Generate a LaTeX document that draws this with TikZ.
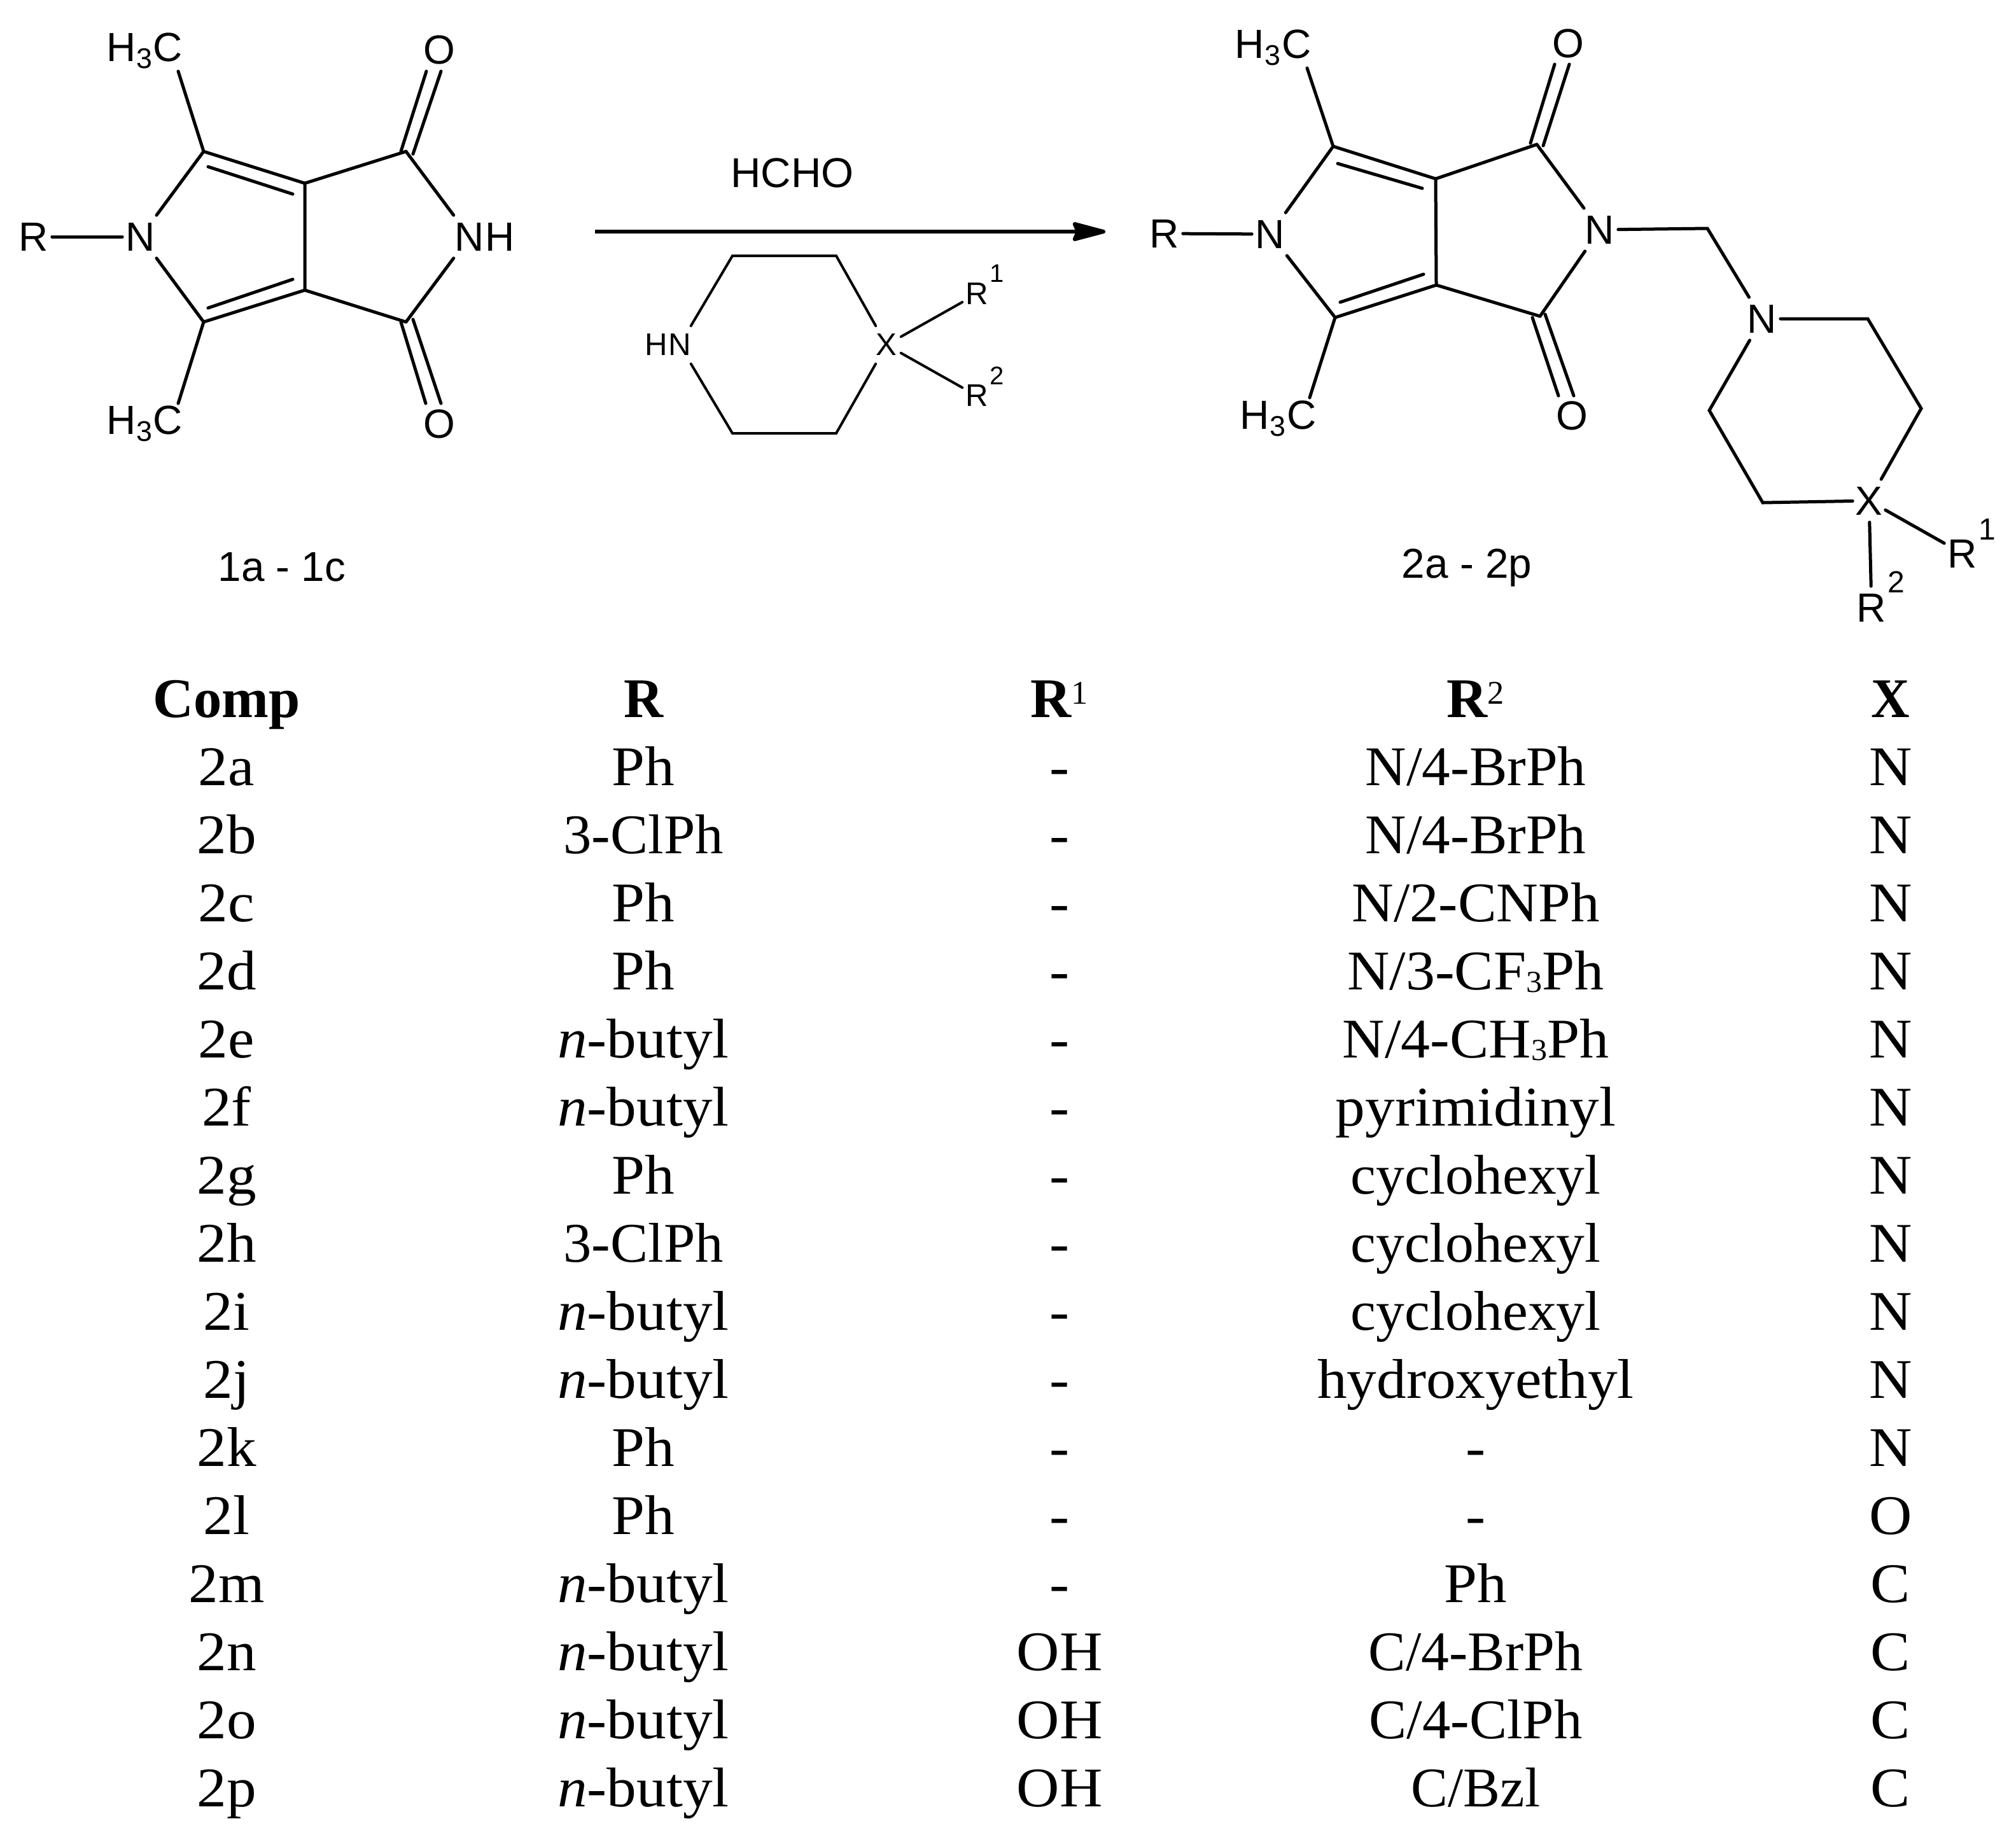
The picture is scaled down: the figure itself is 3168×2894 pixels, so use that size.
\documentclass[tikz,border=0pt]{standalone}
\usepackage{fontspec}
\usetikzlibrary{arrows.meta}
\setmainfont{Liberation Serif}[FakeStretch=1.06]
\newfontfamily\chemfont{Liberation Sans}
\newcommand{\trow}[6]{%
  \node[cell] (a#1) at (356,{1127+107*#1}) {#2};
  \node[cell] (b#1) at (1011,{1127+107*#1}) {#3};
  \node[cell] (c#1) at (1665,{1127+107*#1}) {#4};
  \node[cell] (d#1) at (2319,{1127+107*#1}) {#5};
  \node[cell] (e#1) at (2971,{1127+107*#1}) {#6};
}
\newcommand{\hcc}{H\textsubscript{3}C}
\newcommand{\nb}{\textit{n}-butyl}
\newcommand{\nar}[2]{\scalebox{#1}[1]{#2}}
\newcommand{\tsub}[1]{\raisebox{-1pt}{\fontsize{12}{12}\selectfont #1}}
\newcommand{\tsup}[1]{\raisebox{5.25pt}{\fontsize{13}{13}\selectfont\mdseries #1}}
\tikzset{
  cell/.style={anchor=base,inner sep=0pt,font=\fontsize{22}{26}\selectfont},
  hcell/.style={cell,font=\fontsize{22}{26}\selectfont\bfseries},
  atom/.style={inner sep=0pt,minimum width=14pt,minimum height=16.5pt,font=\chemfont\fontsize{16}{18}\selectfont},
  small atom/.style={inner sep=0pt,minimum width=8.5pt,minimum height=14.5pt,font=\chemfont\fontsize{12.3}{14}\selectfont},
  supnum/.style={inner sep=0pt,font=\chemfont\fontsize{10}{12}\selectfont},
  caption/.style={inner sep=0pt,font=\chemfont\fontsize{16.4}{18}\selectfont},
  bond/.style={line width=1.25pt,line cap=round,line join=miter},
  thin bond/.style={line width=1pt,line cap=round,line join=miter},
  react/.style={line width=1.5pt,-{Stealth[length=15.5pt,width=8pt,inset=1.7pt,round]}},
}
\begin{document}
\begin{tikzpicture}[x=0.25pt,y=-0.25pt]
\path[use as bounding box,fill=white] (0,0) rectangle (3168,2894);

% ---------- left molecule
\coordinate (lc1) at (320,238);
\coordinate (lc2) at (479,288);
\coordinate (lc3) at (479,456);
\coordinate (lc4) at (320,506);
\coordinate (lc5) at (638,238);
\coordinate (lc6) at (638,506);
\node[atom] (ln1) at (221,372) {N};
\node[atom] (ln2) at (738,372) {N};
\node[atom,anchor=west,minimum width=0pt] (lh) at (762,372) {H};
\node[atom] (lr) at (53,372) {R};
\node[atom,anchor=east,minimum width=0pt] (lme1) at (288,80) {\hcc};
\node[atom,anchor=east,minimum width=0pt] (lme2) at (288,666) {\hcc};
\node[atom] (lo1) at (690,78) {O};
\node[atom] (lo2) at (690,666) {O};
\node[caption] (lcap) at (443,891) {1a - 1c};
\coordinate (lm1) at (280,112);
\coordinate (lm2) at (280,634);
\coordinate (ld1a) at (327,262); \coordinate (ld1b) at (460,305);
\coordinate (ld2a) at (327,484); \coordinate (ld2b) at (460,439);
\coordinate (lo1a) at (630,238); \coordinate (lo1b) at (670,112);
\coordinate (lo1c) at (649,242); \coordinate (lo1d) at (693,112);
\coordinate (lo2a) at (630,506); \coordinate (lo2b) at (669,634);
\coordinate (lo2c) at (649,502); \coordinate (lo2d) at (693,634);
\draw[bond] (lr) -- (ln1);
\draw[bond] (ln1) -- (lc1);
\draw[bond] (ln1) -- (lc4);
\draw[bond] (lc1) -- (lc2) -- (lc3) -- (lc4);
\draw[bond] (lc2) -- (lc5);
\draw[bond] (lc3) -- (lc6);
\draw[bond] (lc5) -- (ln2);
\draw[bond] (lc6) -- (ln2);
\draw[bond] (lc1) -- (lm1);
\draw[bond] (lc4) -- (lm2);
\draw[bond] (ld1a) -- (ld1b);
\draw[bond] (ld2a) -- (ld2b);
\draw[bond] (lo1a) -- (lo1b);
\draw[bond] (lo1c) -- (lo1d);
\draw[bond] (lo2a) -- (lo2b);
\draw[bond] (lo2c) -- (lo2d);

% ---------- arrow and reagent
\coordinate (arra) at (935,364);
\coordinate (arrb) at (1737,364);
\draw[react] (arra) -- (arrb);
\node[caption] (hcho) at (1245,272) {HCHO};
\coordinate (rg1) at (1151,402);
\coordinate (rg2) at (1314,402);
\coordinate (rg3) at (1314,681);
\coordinate (rg4) at (1151,681);
\node[small atom] (rgn) at (1068,542) {N};
\node[small atom,anchor=east,minimum width=0pt] (rgh) at (1050,542) {H};
\node[small atom,minimum width=11pt] (rgx) at (1393,542) {X};
\node[small atom,minimum width=11pt] (rgr1) at (1535,462) {R};
\node[small atom,minimum width=11pt] (rgr2) at (1535,622) {R};
\node[supnum] (rgs1) at (1567,430) {1};
\node[supnum] (rgs2) at (1567,591) {2};
\draw[thin bond] (rgn) -- (rg1) -- (rg2) -- (rgx);
\draw[thin bond] (rgn) -- (rg4) -- (rg3) -- (rgx);
\draw[thin bond] (rgx) -- (rgr1);
\draw[thin bond] (rgx) -- (rgr2);

% ---------- right molecule
\coordinate (pc1) at (2095,230);
\coordinate (pc2) at (2256,281);
\coordinate (pc3) at (2257,448);
\coordinate (pc4) at (2098,499);
\coordinate (pc5) at (2415,227);
\coordinate (pc6) at (2420,497);
\coordinate (pch) at (2683,359);
\coordinate (pr1) at (2935,501);
\coordinate (pr2) at (3019,642);
\coordinate (pr3) at (2770,790);
\coordinate (pr4) at (2686,645);
\node[atom] (pn1) at (1996,368) {N};
\node[atom] (pn2) at (2514,361) {N};
\node[atom] (pn3) at (2769,501) {N};
\node[atom,minimum width=12.5pt] (px) at (2937,787) {X};
\node[atom] (pr) at (1830,367) {R};
\node[atom] (pra) at (3084,870) {R};
\node[atom] (prb) at (2941,955) {R};
\node[supnum,font=\chemfont\fontsize{12}{14}\selectfont] (psa) at (3123,832) {1};
\node[supnum,font=\chemfont\fontsize{12}{14}\selectfont] (psb) at (2980,915) {2};
\node[atom,anchor=east,minimum width=0pt] (pme1) at (2061,75) {\hcc};
\node[atom,anchor=east,minimum width=0pt] (pme2) at (2069,658) {\hcc};
\node[atom] (po1) at (2464,68) {O};
\node[atom] (po2) at (2470,653) {O};
\node[caption] (pcap) at (2305,892) {2a - 2p};
\coordinate (pm1) at (2054,107);
\coordinate (pm2) at (2058,625);
\coordinate (pd1a) at (2102,257); \coordinate (pd1b) at (2235,296);
\coordinate (pd2a) at (2106,475); \coordinate (pd2b) at (2237,431);
\coordinate (po1a) at (2405,225); \coordinate (po1b) at (2443,101);
\coordinate (po1c) at (2425,229); \coordinate (po1d) at (2466,101);
\coordinate (po2a) at (2408,499); \coordinate (po2b) at (2449,622);
\coordinate (po2c) at (2428,494); \coordinate (po2d) at (2473,622);
\draw[bond] (pr) -- (pn1);
\draw[bond] (pn1) -- (pc1);
\draw[bond] (pn1) -- (pc4);
\draw[bond] (pc1) -- (pc2) -- (pc3) -- (pc4);
\draw[bond] (pc2) -- (pc5);
\draw[bond] (pc3) -- (pc6);
\draw[bond] (pc5) -- (pn2);
\draw[bond] (pc6) -- (pn2);
\draw[bond] (pc1) -- (pm1);
\draw[bond] (pc4) -- (pm2);
\draw[bond] (pd1a) -- (pd1b);
\draw[bond] (pd2a) -- (pd2b);
\draw[bond] (po1a) -- (po1b);
\draw[bond] (po1c) -- (po1d);
\draw[bond] (po2a) -- (po2b);
\draw[bond] (po2c) -- (po2d);
\draw[bond] (pn2) -- (pch) -- (pn3);
\draw[bond] (pn3) -- (pr1) -- (pr2) -- (px);
\draw[bond] (pn3) -- (pr4) -- (pr3) -- (px);
\draw[bond] (px) -- (pra);
\draw[bond] (px) -- (prb);

% ---------- table
\node[hcell] (a0) at (356,1127) {\nar{.95}{Comp}};
\node[hcell] (b0) at (1011,1127) {\nar{.92}{R}};
\node[hcell] (c0) at (1665,1127) {\nar{.95}{R\tsup{1}}};
\node[hcell] (d0) at (2319,1127) {\nar{.95}{R\tsup{2}}};
\node[hcell] (e0) at (2971,1127) {\nar{.9}{X}};
\trow{1}{2a}{Ph}{-}{\nar{.955}{N/4-BrPh}}{N}
\trow{2}{2b}{\nar{.95}{3-ClPh}}{-}{\nar{.955}{N/4-BrPh}}{N}
\trow{3}{2c}{Ph}{-}{\nar{.975}{N/2-CNPh}}{N}
\trow{4}{2d}{Ph}{-}{\nar{.985}{N/3-CF\tsub{3}Ph}}{N}
\trow{5}{2e}{\nb}{-}{\nar{.985}{N/4-CH\tsub{3}Ph}}{N}
\trow{6}{2f}{\nb}{-}{pyrimidinyl}{N}
\trow{7}{2g}{Ph}{-}{\nar{.96}{cyclohexyl}}{N}
\trow{8}{2h}{\nar{.95}{3-ClPh}}{-}{\nar{.96}{cyclohexyl}}{N}
\trow{9}{2i}{\nb}{-}{\nar{.96}{cyclohexyl}}{N}
\trow{10}{2j}{\nb}{-}{hydroxyethyl}{N}
\trow{11}{2k}{Ph}{-}{-}{N}
\trow{12}{2l}{Ph}{-}{-}{O}
\trow{13}{2m}{\nb}{-}{Ph}{C}
\trow{14}{2n}{\nb}{OH}{\nar{.94}{C/4-BrPh}}{C}
\trow{15}{2o}{\nb}{OH}{\nar{.95}{C/4-ClPh}}{C}
\trow{16}{2p}{\nb}{OH}{\nar{.93}{C/Bzl}}{C}
\end{tikzpicture}
\end{document}
